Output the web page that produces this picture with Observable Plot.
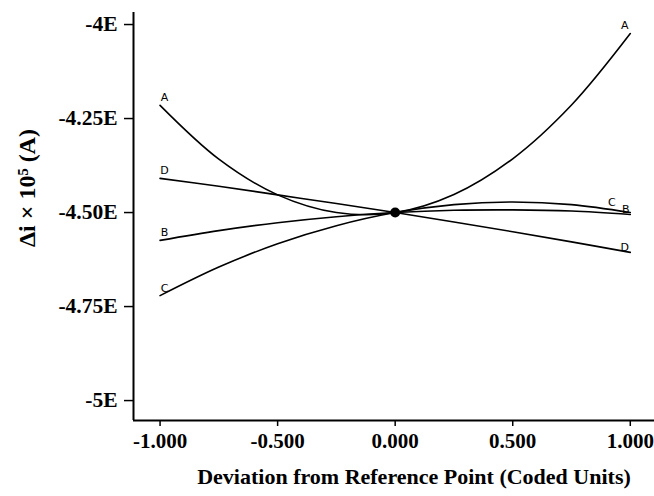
<!DOCTYPE html>
<html><head><meta charset="utf-8">
<script src="https://cdn.jsdelivr.net/npm/d3@7"></script>
<script src="https://cdn.jsdelivr.net/npm/@observablehq/plot@0.6"></script>
<style>
body{margin:0;background:#fff}
#chart svg{display:block}
#chart svg g[aria-label$="tick label"] text,
#chart svg g[aria-label$="tick label"]{font-family:'Liberation Serif','Times New Roman',serif !important;font-weight:bold !important}
#chart svg .curve-label, #chart svg .curve-label text{font-family:'DejaVu Sans',sans-serif !important;font-weight:normal !important}
</style>
</head><body><div id="chart"></div>
<script>
// Coded deviation from reference point
const xs = [-1, -0.75, -0.5, -0.25, 0, 0.25, 0.5, 0.75, 1];
// Δi × 10^5 (A) for each factor
const seriesA = [-4.215, -4.358, -4.453, -4.500, -4.500, -4.452, -4.357, -4.214, -4.024];
const seriesB = [-4.574, -4.548, -4.527, -4.511, -4.500, -4.494, -4.493, -4.496, -4.505];
const seriesC = [-4.721, -4.645, -4.583, -4.535, -4.500, -4.479, -4.472, -4.479, -4.500];
const seriesD = [-4.409, -4.430, -4.453, -4.476, -4.500, -4.525, -4.551, -4.578, -4.606];
const seriesNames = ["A", "B", "C", "D"];
const referencePoint = [{x: 0, y: -4.5}];

const yTickValues = [-5, -4.75, -4.5, -4.25, -4];
const yTickLabels = ["-5E", "-4.75E", "-4.50E", "-4.25E", "-4E"];
const xTickValues = [-1, -0.5, 0, 0.5, 1];
const xTickLabels = ["-1.000", "-0.500", "0.000", "0.500", "1.000"];
const xDomain = [-1.113, 1.103];
const yDomain = [-5.053, -3.968];

const allSeries = [seriesA, seriesB, seriesC, seriesD];
const rows = [];
allSeries.forEach((vals, i) => vals.forEach((v, j) => rows.push({series: seriesNames[i], x: xs[j], y: v})));
const firstPts = allSeries.map((vals, i) => ({series: seriesNames[i], x: xs[0], y: vals[0]}));
const lastPts = allSeries.map((vals, i) => ({series: seriesNames[i], x: xs[xs.length - 1], y: vals[vals.length - 1]}));

const rightDx = {A: -5.5, B: -4.5, C: -18.5, D: -5.5};
const rightDy = {A: -8, B: -5, C: -10, D: -5};

const serif = "'Liberation Serif', 'Times New Roman', serif";
const labelFont = {fontFamily: "DejaVu Sans", fontSize: 11, fontWeight: "normal", fill: "black", className: "curve-label"};

const chart = Plot.plot({
  width: 654,
  height: 496,
  marginLeft: 133,
  marginRight: 0,
  marginTop: 12,
  marginBottom: 76,
  style: {"font-family": serif, "font-weight": "bold", "font-size": "20px", background: "white", color: "black"},
  x: {domain: xDomain},
  y: {domain: yDomain},
  marks: [
    Plot.axisY({ticks: yTickValues, tickFormat: (d) => yTickLabels[yTickValues.indexOf(d)], tickSize: 9, tickPadding: 7, label: null, strokeWidth: 1.5, fontFamily: serif, fontWeight: "bold", fontSize: 21.5}),
    Plot.axisX({ticks: xTickValues, tickFormat: (d) => xTickLabels[xTickValues.indexOf(d)], tickSize: 6, tickPadding: 7, label: null, strokeWidth: 1.5, fontFamily: serif, fontWeight: "bold", fontSize: 21}),
    Plot.ruleX([xDomain[0]], {y1: yDomain[0], y2: yDomain[1], stroke: "black", strokeWidth: 2}),
    Plot.ruleY([yDomain[0]], {x1: xDomain[0], x2: xDomain[1], stroke: "black", strokeWidth: 2}),
    Plot.line(rows, {x: "x", y: "y", z: "series", stroke: "black", strokeWidth: 1.6, curve: "catmull-rom"}),
    Plot.dot(referencePoint, {x: "x", y: "y", r: 5, fill: "black"}),
    Plot.text(firstPts, {x: "x", y: "y", text: "series", dx: 4.5, dy: -7.5, ...labelFont}),
    ...lastPts.map((p) => Plot.text([p], {x: "x", y: "y", text: "series", dx: rightDx[p.series], dy: rightDy[p.series], ...labelFont}))
  ]
});

const svg = d3.select(chart);
svg.append("text")
  .attr("transform", "translate(35,188) rotate(-90)")
  .attr("text-anchor", "middle")
  .attr("font-family", serif)
  .attr("font-weight", "bold")
  .attr("font-size", 24)
  .attr("fill", "black")
  .text("Δi × 10⁵ (A)");
svg.append("text")
  .attr("x", 414)
  .attr("y", 484)
  .attr("text-anchor", "middle")
  .attr("font-family", serif)
  .attr("font-weight", "bold")
  .attr("font-size", 22)
  .attr("fill", "black")
  .text("Deviation from Reference Point (Coded Units)");

document.getElementById("chart").appendChild(chart);
</script>
</body></html>
